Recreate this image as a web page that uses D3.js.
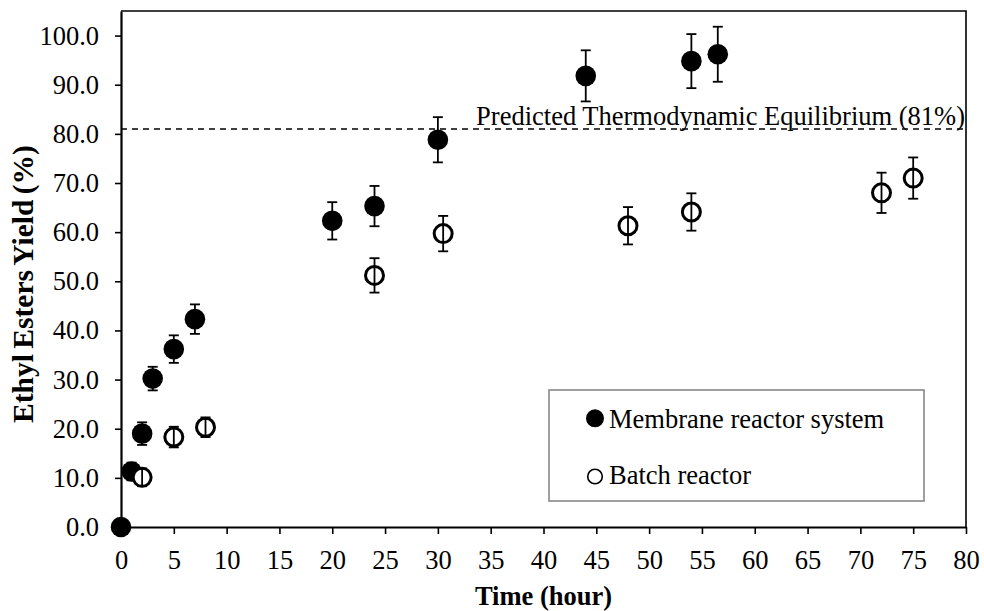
<!DOCTYPE html>
<html>
<head>
<meta charset="utf-8">
<script src="https://cdn.jsdelivr.net/npm/d3@7"></script>
<style>
  body { margin: 0; background: #fff; }
  svg text { font-family: "Liberation Serif", "Times New Roman", serif; fill: #000; }
</style>
</head>
<body>
<svg id="chart" width="984" height="611"></svg>
<script>
//series values
const membraneTime = [0, 1, 2, 3, 5, 7, 20, 24, 30, 44, 54, 56.5]
  , membraneYield = [0, 11.3, 19.0, 30.2, 36.2, 42.3, 62.3, 65.3, 78.8, 91.8, 94.8, 96.2]
  , membraneErr = [0, 1.8, 2.3, 2.4, 2.8, 3.0, 3.8, 4.1, 4.6, 5.2, 5.5, 5.6];

const batchTime = [2, 5, 8, 24, 30.5, 48, 54, 72, 75]
  , batchYield = [10.1, 18.3, 20.3, 51.2, 59.7, 61.3, 64.1, 68.0, 71.0]
  , batchErr = [1.8, 2.1, 2.0, 3.5, 3.6, 3.8, 3.8, 4.1, 4.2];

const xTicks = d3.range(0, 81, 5)
  , yTicks = d3.range(0, 101, 10)
  , equilibrium = 81
  , equilibriumLabel = "Predicted Thermodynamic Equilibrium (81%)"
  , legendLabels = ["Membrane reactor system", "Batch reactor"];

const svg = d3.select("#chart")
  , margin = {top: 11, right: 18, bottom: 84, left: 121}
  , width = +svg.attr("width") - margin.left - margin.right
  , height = +svg.attr("height") - margin.top - margin.bottom;

const x = d3.scaleLinear().domain([0, 80]).range([0, width])
  , y = d3.scaleLinear().domain([0, 105]).range([height, 0]);

const g = svg.append("g").attr("transform", `translate(${margin.left},${margin.top})`);

//plot border (top + right)
g.append("path")
  .attr("d", `M0,0H${width}V${height}`)
  .attr("fill", "none").attr("stroke", "#000").attr("stroke-width", 1.6);

//axes
const yAxis = g.append("g")
  .call(d3.axisLeft(y).tickValues(yTicks).tickFormat(d3.format(".1f")).tickSize(6).tickSizeOuter(0).tickPadding(16));
const xAxis = g.append("g").attr("transform", `translate(0,${height})`)
  .call(d3.axisBottom(x).tickValues(xTicks).tickSize(7).tickSizeOuter(0).tickPadding(16));
[xAxis, yAxis].forEach(a => {
  a.select(".domain").attr("stroke", "#000").attr("stroke-width", 2.2);
  a.selectAll(".tick line").attr("stroke", "#000").attr("stroke-width", 1.6);
  a.selectAll("text").attr("font-size", 26.5).attr("font-family", "Liberation Serif");
});

//axis titles
svg.append("text")
  .attr("x", margin.left + width / 2).attr("y", 605)
  .attr("text-anchor", "middle").attr("font-size", 26.5).attr("font-weight", "bold")
  .text("Time (hour)");
svg.append("text")
  .attr("transform", "translate(33,284) rotate(-90)")
  .attr("text-anchor", "middle").attr("font-size", 29.5).attr("font-weight", "bold")
  .attr("word-spacing", -2)
  .text("Ethyl Esters Yield (%)");

//equilibrium line
g.append("line")
  .attr("x1", 0).attr("x2", width)
  .attr("y1", y(equilibrium)).attr("y2", y(equilibrium))
  .attr("stroke", "#000").attr("stroke-width", 1.5).attr("stroke-dasharray", "6,5");
g.append("text")
  .attr("x", width - 1).attr("y", y(equilibrium) - 4)
  .attr("text-anchor", "end").attr("font-size", 26.5)
  .text(equilibriumLabel);

//draw a series with its error bars
const drawSeries = (times, values, errs, filled) => {
  let pts = times.map((t, i) => ({t: t, v: values[i], e: errs[i]}));
  let s = g.append("g");
  s.selectAll("circle").data(pts).enter().append("circle")
    .attr("cx", d => x(d.t)).attr("cy", d => y(d.v))
    .attr("r", filled ? 10.3 : 9)
    .attr("fill", filled ? "#000" : "#fff")
    .attr("stroke", "#000").attr("stroke-width", filled ? 0 : 3);
  let eb = s.selectAll(".err").data(pts.filter(d => d.e > 0)).enter().append("g").attr("class", "err");
  eb.append("line")
    .attr("x1", d => x(d.t)).attr("x2", d => x(d.t))
    .attr("y1", d => y(d.v - d.e)).attr("y2", d => y(d.v + d.e));
  eb.append("line")
    .attr("x1", d => x(d.t) - 5).attr("x2", d => x(d.t) + 5)
    .attr("y1", d => y(d.v + d.e)).attr("y2", d => y(d.v + d.e));
  eb.append("line")
    .attr("x1", d => x(d.t) - 5).attr("x2", d => x(d.t) + 5)
    .attr("y1", d => y(d.v - d.e)).attr("y2", d => y(d.v - d.e));
  eb.selectAll("line").attr("stroke", "#000").attr("stroke-width", 1.8);
}

drawSeries(membraneTime, membraneYield, membraneErr, true)
drawSeries(batchTime, batchYield, batchErr, false)

//legend
const legend = svg.append("g").attr("transform", "translate(549,390)");
legend.append("rect")
  .attr("width", 375).attr("height", 111)
  .attr("fill", "#fff").attr("stroke", "#888").attr("stroke-width", 1.6);
legend.append("circle").attr("cx", 46).attr("cy", 28.3).attr("r", 9).attr("fill", "#000");
legend.append("circle").attr("cx", 46).attr("cy", 86.5).attr("r", 7.3)
  .attr("fill", "#fff").attr("stroke", "#000").attr("stroke-width", 1.6);
legend.selectAll(".lab").data(legendLabels).enter().append("text")
  .attr("class", "lab")
  .attr("x", 60).attr("y", (d, i) => 38 + i * 56)
  .attr("font-size", 26.5)
  .text(d => d);
</script>
</body>
</html>
